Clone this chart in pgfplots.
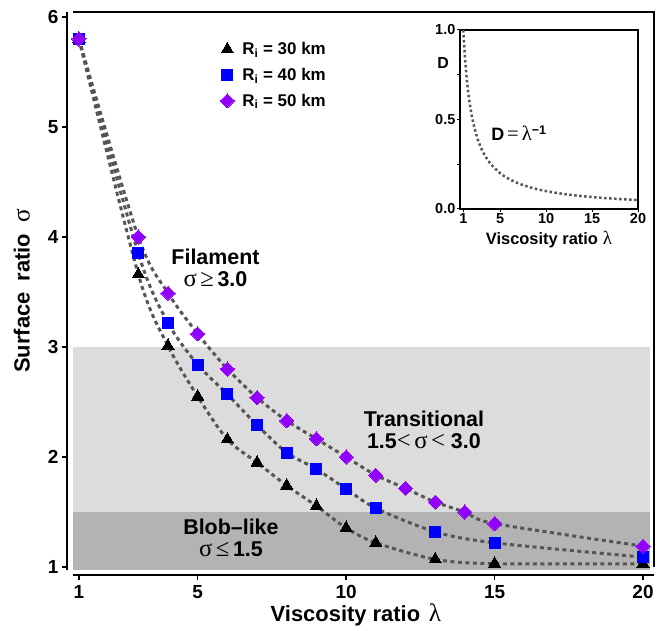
\documentclass[border=0pt]{standalone}
\usepackage{pgfplots}
\pgfplotsset{compat=1.18}
\usepackage{fontspec}
\setmainfont{Liberation Sans}
\newfontfamily\sym{Liberation Serif}
\newcommand\gk[1]{{\sym\mdseries\scalebox{1.15}{#1}}}
\definecolor{linegray}{HTML}{555555}
\definecolor{lightband}{HTML}{DCDCDC}
\definecolor{darkband}{HTML}{B3B3B3}
\definecolor{violetm}{RGB}{145,0,255}
\begin{document}
\begin{tikzpicture}
\useasboundingbox (0,0) rectangle (658bp,631bp);
\begin{axis}[
  at={(73bp,61bp)}, anchor=south west,
  scale only axis, width=581bp, height=558bp,
  xmin=0.8, xmax=20.37, ymin=0.973, ymax=6.045,
  axis lines=left,
  axis line style={-, line width=1.3bp, black},
  axis x line shift=5bp, axis y line shift=6bp,
  xtick={1,5,10,15,20}, ytick={1,2,3,4,5,6},
  tick align=outside, major tick length=5bp,
  tick style={black, line width=1.3bp},
  /pgf/number format/assume math mode=true,
  ticklabel style={font=\fontsize{19}{19}\selectfont\bfseries},
  xticklabel style={yshift=-1.5bp},
  xlabel={Viscosity ratio\hspace{0.4em}\gk{λ}},
  ylabel={Surface\hspace{0.5em}ratio\hspace{0.5em}\gk{σ}},
  label style={font=\fontsize{22}{22}\selectfont\bfseries},
  xlabel style={at={(axis description cs:0.487,-0.08)}, anchor=center},
  ylabel style={at={(axis description cs:-0.088,0.5)}, anchor=center},
  clip=false,
  legend style={draw=none, fill=none, at={(axis description cs:0.248,0.953)}, anchor=north west,
    font=\fontsize{17}{17}\selectfont\bfseries, row sep=8bp,
    nodes={inner xsep=5bp}},
  legend cell align=left,
]
\fill[lightband] (axis cs:0.8,1.5) rectangle (axis cs:20.24,3);
\fill[darkband] (axis cs:0.8,0.973) rectangle (axis cs:20.24,1.5);
\draw[line width=1.3bp] (rel axis cs:0,1) -- (rel axis cs:1,1) -- (rel axis cs:1,0.005);

\pgfplotsset{curve/.style={linegray, line width=3bp, dash pattern=on 4bp off 3.5bp, smooth, no marks, forget plot}}
\addplot[curve] coordinates {(1,5.8) (3,3.66) (4,3.01) (5,2.55) (6,2.16) (7,1.95) (8,1.74) (9,1.555) (10,1.355) (11,1.22) (13,1.07) (15,1.03) (20,1.03)};
\addplot[curve] coordinates {(1,5.8) (3,3.85) (4,3.22) (5,2.84) (6,2.57) (7,2.29) (8,2.04) (9,1.89) (10,1.71) (11,1.535) (13,1.32) (15,1.22) (20,1.09)};
\addplot[curve] coordinates {(1,5.8) (3,4.0) (4,3.49) (5,3.12) (6,2.80) (7,2.54) (8,2.33) (9,2.165) (10,2.0) (11,1.835) (12,1.715) (13,1.59) (14,1.5) (15,1.395) (20,1.19)};

\addplot[black, only marks, mark=triangle*, mark size=7bp, mark options={fill=black, draw=black, line width=0pt}] coordinates {(1,5.8) (3,3.66) (4,3.01) (5,2.55) (6,2.16) (7,1.95) (8,1.74) (9,1.555) (10,1.355) (11,1.22) (13,1.07) (15,1.03) (20,1.03)};
\addlegendentry{\hspace{3bp}R\textsubscript{i} = 30 km}
\addplot[blue, only marks, mark=square*, mark size=5.5bp, mark options={fill=blue, draw=blue, line width=0pt}] coordinates {(1,5.8) (3,3.85) (4,3.22) (5,2.84) (6,2.57) (7,2.29) (8,2.04) (9,1.89) (10,1.71) (11,1.535) (13,1.32) (15,1.22) (20,1.09)};
\addlegendentry{\hspace{3bp}R\textsubscript{i} = 40 km}
\addplot[violetm, only marks, mark=square*, mark size=5bp, mark options={fill=violetm, draw=violetm, line width=0pt, rotate=45}] coordinates {(1,5.8) (3,4.0) (4,3.49) (5,3.12) (6,2.80) (7,2.54) (8,2.33) (9,2.165) (10,2.0) (11,1.835) (12,1.715) (13,1.59) (14,1.5) (15,1.395) (20,1.19)};
\addlegendentry{\hspace{3bp}R\textsubscript{i} = 50 km}

\node[align=center, font=\fontsize{21.5}{22}\selectfont\bfseries] at (axis cs:5.6,3.72) {Filament\\\gk{σ}\,\gk{≥}\,3.0};
\node[align=center, font=\fontsize{21.5}{22}\selectfont\bfseries] at (axis cs:12.62,2.245) {Transitional\\1.5\gk{<}\,\gk{σ}\,\gk{<} 3.0};
\node[align=center, font=\fontsize{21.5}{22}\selectfont\bfseries] at (axis cs:6.12,1.264) {Blob–like\\\gk{σ}\,\gk{≤}\,1.5};
\end{axis}

\begin{axis}[
  at={(460bp,422bp)}, anchor=south west,
  scale only axis, width=178bp, height=179bp,
  xmin=0.64, xmax=20, ymin=0, ymax=1,
  axis background/.style={fill=white},
  axis line style={line width=1.1bp},
  xtick={1,5,10,15,20}, ytick={0,0.5,1},
  yticklabels={0.0,0.5,1.0},
  xtick pos=bottom, ytick pos=left,
  tick align=outside, major tick length=3bp,
  tick style={black, line width=1bp},
  /pgf/number format/assume math mode=true,
  ticklabel style={font=\fontsize{14.5}{14.5}\selectfont\bfseries},
  xticklabel style={inner sep=1.5bp},
  yticklabel style={inner sep=1.5bp},
  xlabel={Viscosity ratio\hspace{0.3em}\gk{λ}},
  xlabel style={font=\fontsize{16.5}{16.5}\selectfont\bfseries, at={(axis description cs:0.5,-0.17)}, anchor=center},
  clip=false,
]
\addplot[linegray, line width=2.5bp, dash pattern=on 2.5bp off 2.5bp, smooth, no marks] coordinates {(1,1) (1.2,0.833) (1.4,0.714) (1.6,0.625) (1.8,0.556) (2,0.5) (2.5,0.4) (3,0.333) (3.5,0.286) (4,0.25) (5,0.2) (6,0.167) (7,0.143) (8,0.125) (9,0.111) (10,0.1) (12,0.0833) (14,0.0714) (16,0.0625) (18,0.0556) (20,0.05)};
\draw[line width=1bp] (rel axis cs:0,0.25) -- ++(2.5bp,0);
\draw[line width=1bp] (rel axis cs:0,0.75) -- ++(2.5bp,0);
\node[font=\fontsize{16}{16}\selectfont\bfseries] at (rel axis cs:-0.095,0.816) {D};
\node[font=\fontsize{18}{18}\selectfont\bfseries] at (axis cs:7.05,0.425) {D\,\gk{=}\,\gk{λ}\textsuperscript{−1}};
\end{axis}
\end{tikzpicture}
\end{document}
